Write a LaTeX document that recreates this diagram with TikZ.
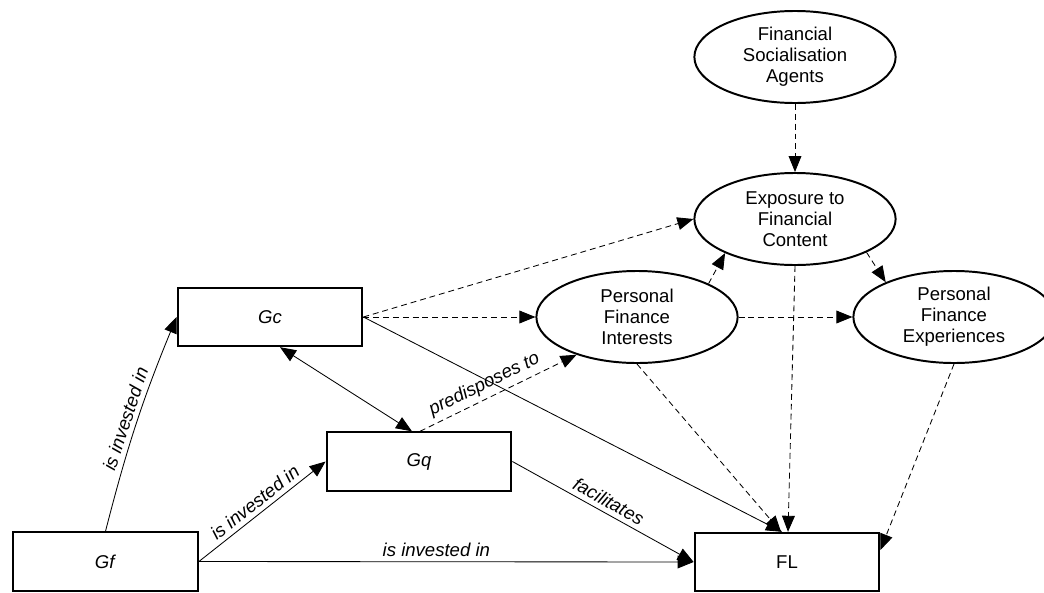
\documentclass[tikz,border=0pt]{standalone}
\usepackage{fontspec}
\setmainfont{Liberation Sans}
\usetikzlibrary{arrows.meta,shapes.geometric,calc}

\begin{document}
\begin{tikzpicture}[x = 0.025cm, y = 0.025cm,
        txt/.style = {font = {\fontsize{13.2}{15}\selectfont}},
        box/.style = {txt, draw, line width = 1.4pt, minimum width = 4.62cm, minimum height = 1.46cm},
        oval/.style = {txt, draw, ellipse, line width = 1.4pt, minimum width = 5.03cm, minimum height = 2.3cm, inner sep = 0pt, align = center},
        link/.style = {line width = 0.6pt, -{Triangle[length = 4mm, width = 3.2mm]}},
        dlink/.style = {link, dash pattern = on 4.2pt off 2.8pt},
        lbl/.style = {font = {\itshape\fontsize{13.2}{15}\selectfont}}]
        \useasboundingbox (0, -592) rectangle (1044, 0);

        % boxes
        \node[box] (Gf) at (105.5, -561.5) {\textit{Gf}};
        \node[box] (Gc) at (270, -317) {\textit{Gc}};
        \node[box] (Gq) at (419, -461.5) {\textit{Gq}};
        \node[box] (FL) at (787, -562) {FL};

        % ellipses
        \node[oval] (FSA) at (795, -57) {Financial\\Socialisation\\Agents};
        \node[oval] (EFC) at (795, -219) {Exposure to\\Financial\\Content};
        \node[oval] (PFI) at (637, -317) {Personal\\Finance\\Interests};
        \node[oval] (PFE) at (954, -317) {Personal\\Finance\\Experiences};

        % solid links
        \draw[link] (Gf.north) to[bend left = 4] node[lbl, above, sloped] {is invested in} (Gc.west);
        \draw[link] (Gf.east) -- node[lbl, above, sloped, pos = 0.5] {is invested in} (Gq.west);
        \draw[link] (Gf.east) -- node[lbl, above, pos = 0.48] {is invested in} (FL.west);
        \draw[link, {Triangle[length = 4mm, width = 3.2mm]}-{Triangle[length = 4mm, width = 3.2mm]}] ($(Gc.south)+(10, 0)$) -- ($(Gq.north)+(-7, 0)$);
        \draw[link] (Gq.east) -- node[lbl, above, sloped] {facilitates} (FL.west);
        \draw[link] (Gc.east) -- ($(FL.north)+(-5, 0)$);

        % dashed links
        \draw[dlink] (Gc.east) -- (EFC.west);
        \draw[dlink] (Gc.east) -- (PFI.west);
        \draw[dlink] ($(Gq.north)+(1, 0)$) -- node[lbl, above, sloped, pos = 0.45] {predisposes to} (PFI.212);
        \draw[dlink] (FSA.south) -- (EFC.north);
        \draw[dlink] (PFI.25) -- (EFC.206);
        \draw[dlink] (EFC.335) -- (PFE.153);
        \draw[dlink] (PFI.east) -- (PFE.west);
        \draw[dlink] (EFC.south) -- ($(FL.north)+(1, 0)$);
        \draw[dlink] (PFI.south) -- ($(FL.north)+(-6, 0)$);
        \draw[dlink] (PFE.south) -- ($(FL.east)+(0, 12)$);
\end{tikzpicture}
\end{document}
